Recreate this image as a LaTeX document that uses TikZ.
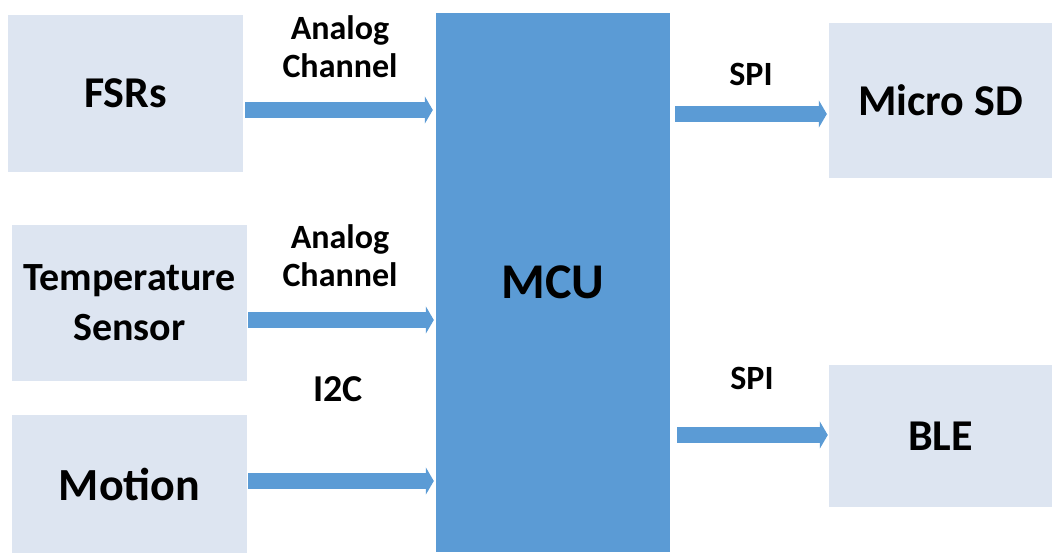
\documentclass[tikz,border=0pt]{standalone}
\usepackage{fontspec}
\setmainfont{Carlito}
\usetikzlibrary{arrows.meta, positioning, calc}
\definecolor{mcublue}{HTML}{5B9BD5}
\definecolor{boxgray}{HTML}{DDE5F1}

\begin{document}
\begin{tikzpicture}[
    x=1pt, y=-1pt,
    block/.style={fill=boxgray, inner sep=0pt, align=center, font=\bfseries\fontsize{44}{50}\selectfont},
    flow/.style={-{Triangle[length=8pt, width=27pt]}, line width=16pt, mcublue},
    label/.style={font=\bfseries\fontsize{34}{38}\selectfont, align=center, inner sep=0pt}
]
\useasboundingbox (0,0) rectangle (1052,555);

% MCU
\node[fill=mcublue, minimum width=234pt, minimum height=539pt, inner sep=0pt,
      font=\bfseries\fontsize{50}{56}\selectfont] (mcu) at (553, 282.5) {MCU};

% Sensor blocks
\node[block, minimum width=235pt, minimum height=157pt] (fsr) at (125.5, 93.5) {FSRs};
\node[block, minimum width=235pt, minimum height=156pt, font=\bfseries\fontsize{40}{50}\selectfont] (temp) at (129.5, 303) {Temperature\\Sensor};
\node[block, minimum width=235pt, minimum height=138pt, font=\bfseries\fontsize{46}{50}\selectfont] (motion) at (129.5, 484) {Motion};

% Output blocks
\node[block, minimum width=223pt, minimum height=155pt] (sd) at (940.5, 100.5) {Micro SD};
\node[block, minimum width=223pt, minimum height=142pt] (ble) at (940.5, 436) {BLE};

% Inputs
\draw[flow] ([xshift=2pt, yshift=-16.5pt]fsr.east) coordinate (in1) -- ([xshift=-3pt]in1 -| mcu.west);
\draw[flow] ([xshift=1pt, yshift=-17pt]temp.east) coordinate (in2) -- ([xshift=-2pt]in2 -| mcu.west);
\draw[flow] ([xshift=1pt, yshift=3pt]motion.east) coordinate (in3) -- ([xshift=-2pt]in3 -| mcu.west);

% Outputs
\draw[flow] ([xshift=5pt, yshift=-13.5pt]sd.west -| mcu.east) coordinate (out1) -- ([xshift=-2pt]out1 -| sd.west);
\draw[flow] ([xshift=7pt, yshift=1pt]ble.west -| mcu.east) coordinate (out2) -- ([xshift=-1pt]out2 -| ble.west);

% Bus labels
\node[label] (an1) at (340, 47) {Analog\\Channel};
\node[label] (an2) at (340, 256) {Analog\\Channel};
\node[label, font=\bfseries\fontsize{38}{40}\selectfont] (i2c) at (338, 389) {I2C};
\node[label] (spi1) at (751, 74) {SPI};
\node[label] (spi2) at (752, 378) {SPI};

\end{tikzpicture}
\end{document}
